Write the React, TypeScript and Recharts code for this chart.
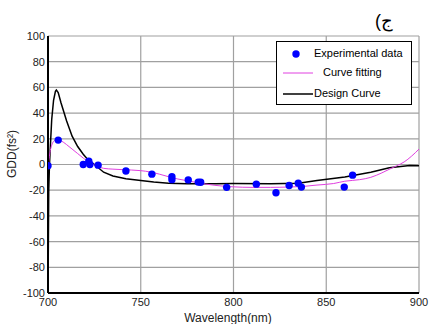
import { CartesianGrid, ComposedChart, Line, Scatter, XAxis, YAxis } from "recharts"

const wavelengthTicks = [700, 750, 800, 850, 900]
const gddTicks = [-100, -80, -60, -40, -20, 0, 20, 40, 60, 80, 100]

// measured points (nm, fs^2)
const expWavelength = [700, 705.5, 719, 722, 722.6, 727, 742, 756, 766.8, 766.8, 775.6, 781, 782.3, 796.3, 812.3, 822.9, 830, 834.9, 836.6, 859.7, 864.2]
const expGdd = [-1, 19, 0, 2.5, 0, -0.5, -5, -7.5, -9.5, -11.8, -12, -13.7, -13.8, -17.8, -15.3, -22, -16.3, -14.5, -17.6, -17.6, -8.3]

const fitWavelength = [700, 701, 702, 703, 705, 707, 710, 713, 716, 719, 722, 726, 730, 735, 740, 745, 750, 755, 760, 765, 770, 775, 780, 785, 790, 800, 810, 820, 830, 838, 845, 854, 860, 868, 874, 880, 885, 888, 892, 896, 900]
const fitGdd = [-3, 9, 15, 18, 19.5, 18.5, 15.5, 12, 8.5, 5, 2, -1, -3, -3.6, -4, -4.3, -4.8, -5.8, -7.5, -9.5, -11.3, -12.6, -14, -15.2, -16.2, -17.4, -17.8, -17.8, -17.5, -17, -16, -14.8, -13, -11.8, -10, -6.5, -3, -1, 2, 6.5, 12]

const designWavelength = [700, 700.4, 700.8, 701.3, 702, 703, 704, 704.5, 705.5, 707, 708.5, 710, 713, 716, 719, 722, 725, 730, 735, 742, 750, 757, 765, 775, 790, 800, 820, 835, 845, 860, 874, 884, 895, 900]
const designGdd = [-100, -20, 0, 15, 35, 50, 57, 58, 56, 48, 41, 34, 22, 14, 8, 3, 0, -6, -9, -11, -12.5, -13.7, -14.5, -15, -15, -14.8, -15, -14.5, -12.5, -9.8, -6, -2.6, -0.8, -1]

const expData = expWavelength.map((x, i) => ({ x, y: expGdd[i] }))
const fitData = fitWavelength.map((x, i) => ({ x, y: fitGdd[i] }))
const designData = designWavelength.map((x, i) => ({ x, y: designGdd[i] }))

const font = "'Liberation Sans', Arial, sans-serif"

function LegendBox() {
  return (
    <div
      style={{
        position: "absolute",
        left: 276,
        top: 41,
        width: 134,
        height: 62,
        border: "1px solid #000",
        background: "#fff",
        fontFamily: font,
        fontSize: 11,
        color: "#000",
      }}
    >
      <svg width={36} height={62} style={{ position: "absolute", left: 0, top: 0 }}>
        <circle cx={19} cy={12} r={3.7} fill="#0000ff" />
        <line x1={6} x2={36} y1={31} y2={31} stroke="#e040e0" strokeWidth={1} />
        <line x1={6} x2={36} y1={52} y2={52} stroke="#000" strokeWidth={1.5} />
      </svg>
      <div style={{ position: "absolute", left: 37, top: 5 }}>Experimental data</div>
      <div style={{ position: "absolute", left: 46, top: 24 }}>Curve fitting</div>
      <div style={{ position: "absolute", left: 37, top: 45 }}>Design Curve</div>
    </div>
  )
}

export default function App() {
  return (
    <div style={{ position: "absolute", left: 0, top: 0, width: 430, height: 324, background: "#fff" }}>
      <ComposedChart width={430} height={324} margin={{ top: 36, right: 11, bottom: 0, left: 0 }}>
        <CartesianGrid xAxisId="b" yAxisId="l" stroke="#a0a0a0" strokeWidth={1.2} />
        <XAxis
          xAxisId="b"
          dataKey="x"
          type="number"
          domain={[700, 900]}
          ticks={wavelengthTicks}
          allowDataOverflow
          height={31}
          tickSize={0}
          tickMargin={5}
          axisLine={{ stroke: "#000", strokeWidth: 2 }}
          tick={{ fill: "#222", fontSize: 11, fontFamily: font }}
          label={{
            content: () => (
              <text x={228} y={322} textAnchor="middle" fontSize={12} fontFamily={font} fill="#222">
                Wavelength(nm)
              </text>
            ),
          }}
        />
        <XAxis xAxisId="t" dataKey="x" type="number" domain={[700, 900]} orientation="top" height={0} tick={false} tickLine={false} axisLine={{ stroke: "#000", strokeWidth: 1.5 }} />
        <YAxis
          yAxisId="l"
          type="number"
          domain={[-100, 100]}
          ticks={gddTicks}
          allowDataOverflow
          width={48}
          tickSize={0}
          tickMargin={3}
          axisLine={{ stroke: "#000", strokeWidth: 2 }}
          tick={{ fill: "#222", fontSize: 11, fontFamily: font }}
          label={{
            content: () => (
              <text x={16} y={154} transform="rotate(-90, 16, 154)" textAnchor="middle" fontSize={12} fontFamily={font} fill="#222">
                GDD(fs²)
              </text>
            ),
          }}
        />
        <YAxis yAxisId="r" type="number" domain={[-100, 100]} orientation="right" width={0} tick={false} tickLine={false} axisLine={{ stroke: "#000", strokeWidth: 1.5 }} />
        <Line
          xAxisId="b"
          yAxisId="l"
          data={designData}
          dataKey="y"
          name="Design Curve"
          type="linear"
          stroke="#000"
          strokeWidth={1.5}
          dot={false}
          isAnimationActive={false}
        />
        <Line
          xAxisId="b"
          yAxisId="l"
          data={fitData}
          dataKey="y"
          name="Curve fitting"
          type="monotone"
          stroke="#e040e0"
          strokeWidth={1}
          dot={false}
          isAnimationActive={false}
        />
        <Scatter
          xAxisId="b"
          yAxisId="l"
          data={expData}
          dataKey="y"
          name="Experimental data"
          fill="#0000ff"
          shape={(p: any) => <circle cx={p.cx} cy={p.cy} r={3.7} fill="#0000ff" />}
          isAnimationActive={false}
        />
      </ComposedChart>
      <LegendBox />
      <div style={{ position: "absolute", left: 375, top: 10, fontFamily: font, fontSize: 18, color: "#000" }}>(ج</div>
    </div>
  )
}
